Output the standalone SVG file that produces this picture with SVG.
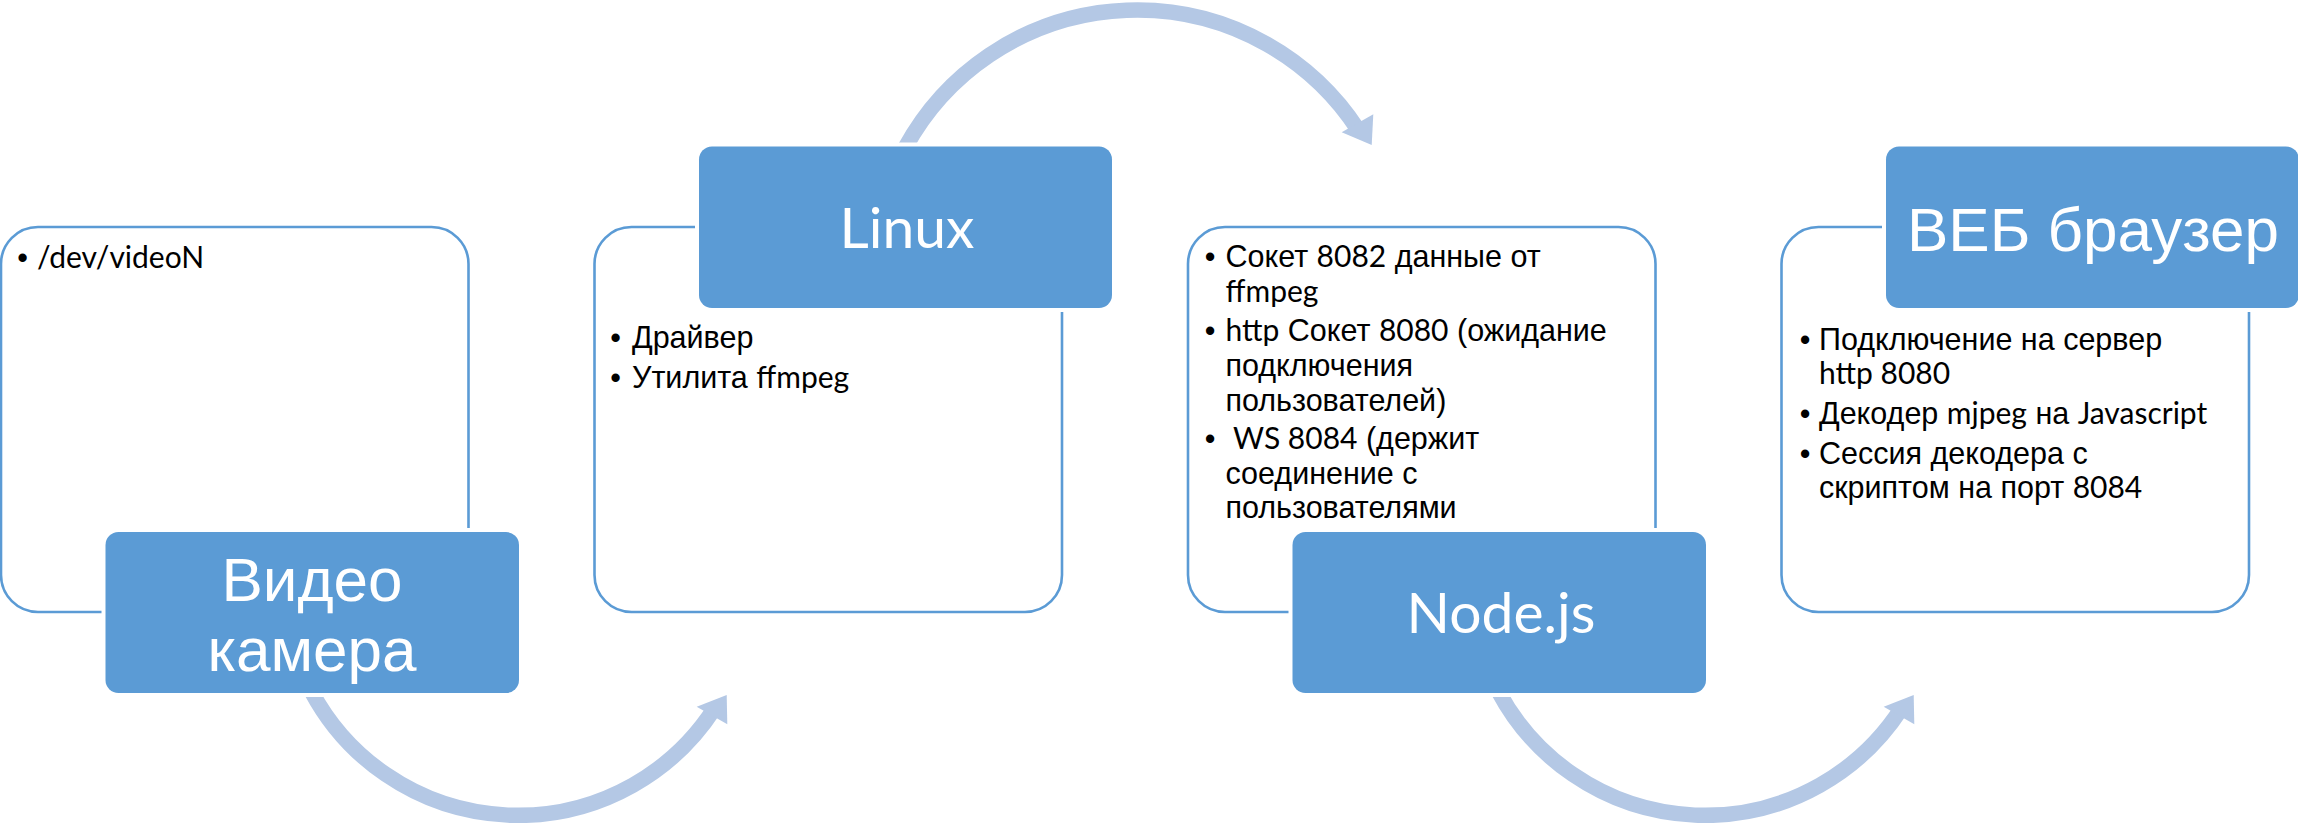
<svg xmlns="http://www.w3.org/2000/svg" width="2298" height="823" viewBox="0 0 2298 823">
<style>
.box{fill:#fff;stroke:#5b9bd5;stroke-width:2.6}
.ttl{fill:#5b9bd5;stroke:#fff;stroke-width:8;paint-order:stroke}
.arc{fill:none;stroke:#b4c8e5;stroke-width:15.5}
.head{fill:#b4c8e5}
.b{font-family:"Liberation Sans",Arial,sans-serif;font-size:30.5px;fill:#000}
.l{font-family:Lato,"Open Sans",sans-serif;font-size:30px}
.bul{font-family:"Liberation Sans",Arial,sans-serif;font-size:30.5px;fill:#000;text-anchor:middle}
.tc{font-family:"Liberation Sans",Arial,sans-serif;font-size:62px;fill:#fff;text-anchor:middle}
.tl{font-family:Lato,"Open Sans",sans-serif;font-size:57px;fill:#fff;text-anchor:middle}
</style>
<g id="connectors">
<path class="arc" d="M311.4,691.3 A234,234 0 0 0 714.2,708.8"/>
<polygon class="head" points="726.7,695 696.7,706.7 727.3,724.3"/>
<path class="arc" d="M905,148 A264,264 0 0 1 1358.4,130.2"/>
<polygon class="head" points="1371.7,145 1373.3,114.3 1341.7,132.3"/>
<path class="arc" d="M1498.4,691.3 A234,234 0 0 0 1901.2,708.8"/>
<polygon class="head" points="1913.7,695 1883.7,706.7 1914.3,724.3"/>
</g>
<g id="node-camera">
<rect class="box" x="1" y="227" width="467.5" height="385" rx="37"/>
<text class="bul" x="22.5" y="268">•</text>
<text class="b" x="37" y="268"><tspan class="l">/dev/videoN</tspan></text>
<rect class="ttl" x="105.5" y="532" width="413.5" height="161" rx="13"/>
<text class="tc" x="312" y="600.5">Видео</text>
<text class="tc" x="312" y="670.5">камера</text>
</g>
<g id="node-linux">
<rect class="box" x="594.5" y="227" width="467.5" height="385" rx="37"/>
<text class="bul" x="615.5" y="348">•</text>
<text class="b" x="632" y="348">Драйвер</text>
<text class="bul" x="615.5" y="388">•</text>
<text class="b" x="632" y="388">Утилита <tspan class="l">ffmpeg</tspan></text>
<rect class="ttl" x="699" y="146.5" width="413" height="161.5" rx="13"/>
<text class="tl" x="907" y="248">Linux</text>
</g>
<g id="node-nodejs">
<rect class="box" x="1188" y="227" width="467.5" height="385" rx="37"/>
<text class="bul" x="1210" y="267">•</text>
<text class="b" x="1225.5" y="267">Сокет <tspan class="l">8082</tspan> данные от</text>
<text class="b" x="1225.5" y="302"><tspan class="l">ffmpeg</tspan></text>
<text class="bul" x="1210" y="341">•</text>
<text class="b" x="1225.5" y="341"><tspan class="l">http</tspan> Сокет <tspan class="l">8080</tspan> (ожидание</text>
<text class="b" x="1225.5" y="376">подключения</text>
<text class="b" x="1225.5" y="411">пользователей)</text>
<text class="bul" x="1210" y="449">•</text>
<text class="b" x="1233" y="449"><tspan class="l">WS 8084</tspan> (держит</text>
<text class="b" x="1225.5" y="484">соединение с</text>
<text class="b" x="1225.5" y="518">пользователями</text>
<rect class="ttl" x="1292.5" y="532" width="413.5" height="161" rx="13"/>
<text class="tl" x="1501" y="633">Node.js</text>
</g>
<g id="node-browser">
<rect class="box" x="1781.5" y="227" width="467.5" height="385" rx="37"/>
<text class="bul" x="1805" y="350">•</text>
<text class="b" x="1819" y="350">Подключение на сервер</text>
<text class="b" x="1819" y="384"><tspan class="l">http 8080</tspan></text>
<text class="bul" x="1805" y="424">•</text>
<text class="b" x="1819" y="424">Декодер <tspan class="l">mjpeg</tspan> на <tspan class="l">Javascript</tspan></text>
<text class="bul" x="1805" y="464">•</text>
<text class="b" x="1819" y="464">Сессия декодера с</text>
<text class="b" x="1819" y="498">скриптом на порт <tspan class="l">8084</tspan></text>
<rect class="ttl" x="1886" y="146.5" width="413" height="161.5" rx="13"/>
<text class="tc" x="2093" y="251">ВЕБ браузер</text>
</g>
</svg>
